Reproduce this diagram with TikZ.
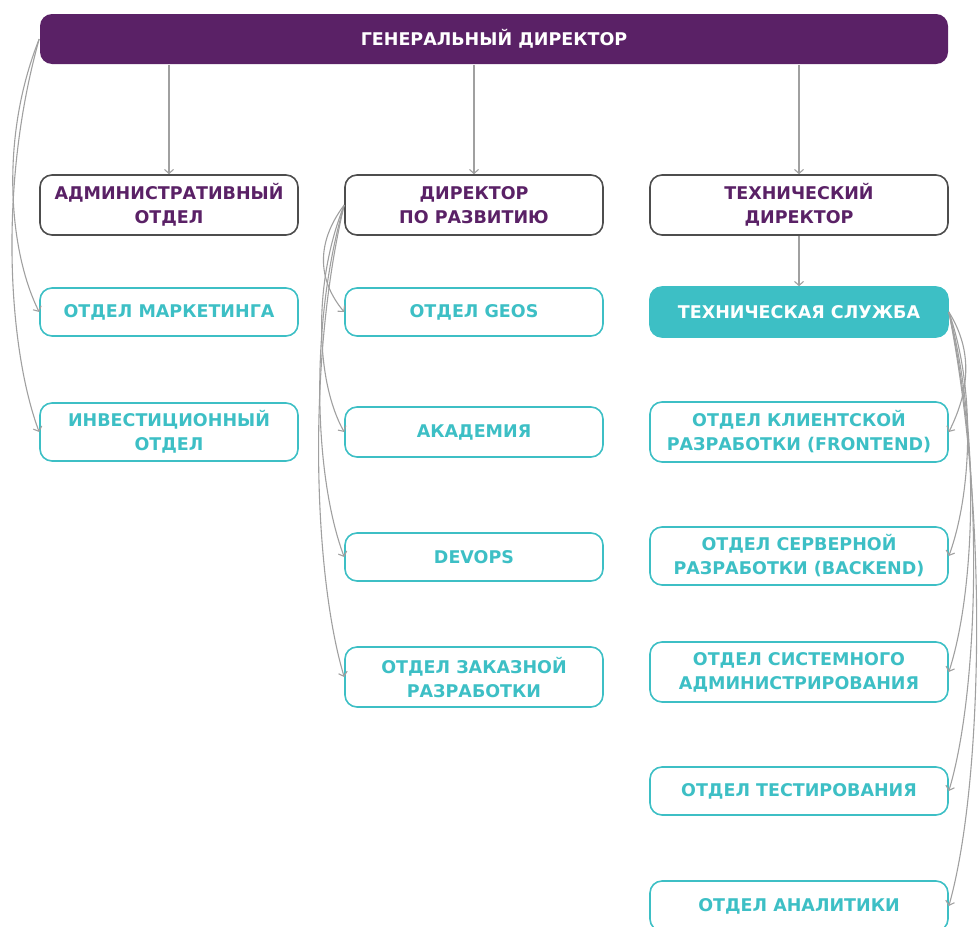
\documentclass[tikz,border=0pt]{standalone}
\usepackage{fontspec}
\setmainfont{DejaVu Sans}
\usetikzlibrary{arrows.meta}
\definecolor{orgpurple}{HTML}{5A2166}
\definecolor{orgteal}{HTML}{3DBFC5}
\definecolor{orgline}{HTML}{A0A0A0}
\definecolor{orgframe}{HTML}{4D4D4D}

\begin{document}
\begin{tikzpicture}[x=1pt,y=-1pt]
        \tikzstyle{box}=[rounded corners=12pt, line width=1.6pt, align=center, inner sep=0pt,
          font=\fontsize{17.5}{24}\selectfont\bfseries]
        \tikzstyle{boss}=[box, draw=orgframe, text=orgpurple, minimum height=60pt]
        \tikzstyle{unit}=[box, draw=orgteal, text=orgteal]
        \tikzstyle{link}=[draw=orgline, line width=1.1pt, -{Straight Barb[length=4pt,width=9pt]}]
        \useasboundingbox (0,0) rectangle (979,926);
        % top
        \node [box, fill=orgpurple, text=white, minimum width=908pt, minimum height=50pt] (ceo) at (494,39) {ГЕНЕРАЛЬНЫЙ ДИРЕКТОР};
        % directors
        \node [boss, minimum width=258pt] (adm) at (169,205) {АДМИНИСТРАТИВНЫЙ\\ОТДЕЛ};
        \node [boss, minimum width=258pt] (dev) at (474,205) {ДИРЕКТОР\\ПО РАЗВИТИЮ};
        \node [boss, minimum width=298pt] (cto) at (799,205) {ТЕХНИЧЕСКИЙ\\ДИРЕКТОР};
        % left column
        \node [unit, minimum width=258pt, minimum height=48pt] (mkt) at (169,312) {ОТДЕЛ МАРКЕТИНГА};
        \node [unit, minimum width=258pt, minimum height=58pt] (inv) at (169,432) {ИНВЕСТИЦИОННЫЙ\\ОТДЕЛ};
        % middle column
        \node [unit, minimum width=258pt, minimum height=48pt] (geos) at (474,312) {ОТДЕЛ GEOS};
        \node [unit, minimum width=258pt, minimum height=50pt] (acad) at (474,432) {АКАДЕМИЯ};
        \node [unit, minimum width=258pt, minimum height=48pt] (devops) at (474,557) {DEVOPS};
        \node [unit, minimum width=258pt, minimum height=60pt] (custom) at (474,677) {ОТДЕЛ ЗАКАЗНОЙ\\РАЗРАБОТКИ};
        % right column
        \node [box, fill=orgteal, draw=orgteal, text=white, minimum width=298pt, minimum height=50pt] (tech) at (799,312) {ТЕХНИЧЕСКАЯ СЛУЖБА};
        \node [unit, minimum width=298pt, minimum height=60pt] (front) at (799,432) {ОТДЕЛ КЛИЕНТСКОЙ\\РАЗРАБОТКИ (FRONTEND)};
        \node [unit, minimum width=298pt, minimum height=58pt] (back) at (799,556) {ОТДЕЛ СЕРВЕРНОЙ\\РАЗРАБОТКИ (BACKEND)};
        \node [unit, minimum width=298pt, minimum height=60pt] (sys) at (799,672) {ОТДЕЛ СИСТЕМНОГО\\АДМИНИСТРИРОВАНИЯ};
        \node [unit, minimum width=298pt, minimum height=48pt] (test) at (799,791) {ОТДЕЛ ТЕСТИРОВАНИЯ};
        \node [unit, minimum width=298pt, minimum height=50pt] (anal) at (799,906) {ОТДЕЛ АНАЛИТИКИ};
        % links down
        \draw [link] (ceo.south -| adm.north) -- (adm.north);
        \draw [link] (ceo.south -| dev.north) -- (dev.north);
        \draw [link] (ceo.south -| cto.north) -- (cto.north);
        \draw [link] (cto) -- (tech);
        % side links
        \draw [link] (ceo.west) .. controls +(-40,100) and +(-30,-60) .. (mkt.west);
        \draw [link] (ceo.west) .. controls +(-42,150) and +(-30,-80) .. (inv.west);
        \draw [link] (dev.west) .. controls +(-30,40) and +(-25,-30) .. (geos.west);
        \draw [link] (dev.west) .. controls +(-32,80) and +(-28,-50) .. (acad.west);
        \draw [link] (dev.west) .. controls +(-35,120) and +(-30,-80) .. (devops.west);
        \draw [link] (dev.west) .. controls +(-38,160) and +(-30,-100) .. (custom.west);
        \draw [link] (tech.east) .. controls +(25,40) and +(20,-40) .. (front.east);
        \draw [link] (tech.east) .. controls +(28,80) and +(22,-60) .. (back.east);
        \draw [link] (tech.east) .. controls +(32,120) and +(26,-80) .. (sys.east);
        \draw [link] (tech.east) .. controls +(36,160) and +(30,-100) .. (test.east);
        \draw [link] (tech.east) .. controls +(40,200) and +(34,-120) .. (anal.east);
\end{tikzpicture}
\end{document}
